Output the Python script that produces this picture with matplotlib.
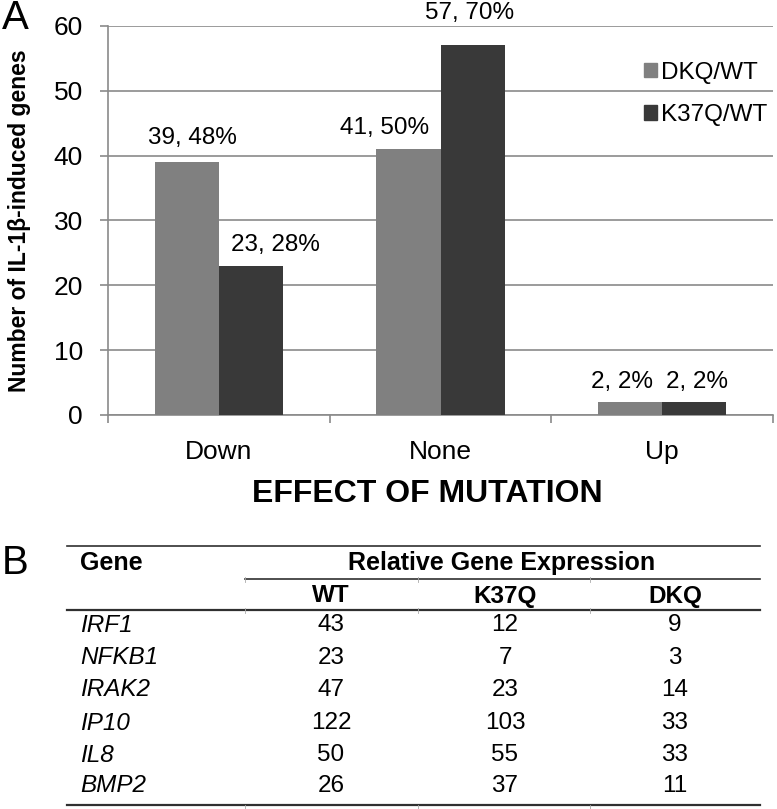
import matplotlib
matplotlib.use("Agg")
import matplotlib.pyplot as plt
from matplotlib.patches import Patch
import numpy as np

plt.rcParams['font.family'] = ['Liberation Sans', 'DejaVu Sans']

# ---- Panel A data ----
categories = ["Down", "None", "Up"]
dkq_counts = [39, 41, 2]
k37q_counts = [23, 57, 2]
dkq_labels = ["39, 48%", "41, 50%", "2, 2%"]
k37q_labels = ["23, 28%", "57, 70%", "2, 2%"]
series_names = ["DKQ/WT", "K37Q/WT"]
yticks = [0, 10, 20, 30, 40, 50, 60]

# ---- Panel B data ----
genes = ["IRF1", "NFKB1", "IRAK2", "IP10", "IL8", "BMP2"]
wt_vals = [43, 23, 47, 122, 50, 26]
k37q_vals = [12, 7, 23, 103, 55, 37]
dkq_vals = [9, 3, 14, 33, 33, 11]
col_headers = ["WT", "K37Q", "DKQ"]

W, H = 777, 809
fig = plt.figure(figsize=(W / 100, H / 100), dpi=100)

c_dkq = "#808080"
c_k37q = "#393939"
c_grid = "#8a8a8a"

# chart axes (pixel layout)
ax_l, ax_r, ax_t, ax_b = 108, 773, 26, 415
ax = fig.add_axes([ax_l / W, 1 - ax_b / H, (ax_r - ax_l) / W, (ax_b - ax_t) / H])
x = np.arange(len(categories))
bw = 0.29
bars1 = ax.bar(x - bw / 2, dkq_counts, bw, color=c_dkq, label=series_names[0], zorder=3)
bars2 = ax.bar(x + bw / 2, k37q_counts, bw, color=c_k37q, label=series_names[1], zorder=3)
ax.set_xlim(-0.5, len(categories) - 0.5)
ax.set_ylim(0, 60)
ax.set_yticks(yticks)
ax.yaxis.grid(True, color=c_grid, linewidth=1.2, zorder=0)
ax.set_xticks(x)
ax.set_xticklabels(categories, fontsize=19)
ax.set_xticks(np.arange(len(categories) + 1) - 0.5, minor=True)
ax.tick_params(axis='x', which='major', length=0, pad=18)
ax.tick_params(axis='x', which='minor', length=6, color=c_grid, width=1.2, direction='out')
ax.tick_params(axis='y', length=6, color=c_grid, width=1.2, labelsize=19, pad=12)
for s in ['top', 'right']:
    ax.spines[s].set_visible(False)
for s in ['left', 'bottom']:
    ax.spines[s].set_color(c_grid)
    ax.spines[s].set_linewidth(1.2)

# data labels (manually placed in source; offsets in points)
dkq_off = [(4.2, 17.4), (-16.8, 15.3), (-5.8, 14.4)]
k37q_off = [(17.3, 15.0), (-2.0, 23.4), (1.8, 14.4)]
for bars, labs, offs in [(bars1, dkq_labels, dkq_off), (bars2, k37q_labels, k37q_off)]:
    for b, lab, off in zip(bars, labs, offs):
        ax.annotate(lab, (b.get_x() + b.get_width() / 2, b.get_height()), xytext=off,
                    textcoords='offset points', ha='center', va='center', fontsize=17.5,
                    annotation_clip=False)

ax.set_ylabel("Number of IL-1β-induced genes", fontsize=16.5, fontweight='bold')
ax.yaxis.set_label_coords(-(ax_l - 20) / (ax_r - ax_l), 0.5)
ax.yaxis.label.set_va('center')
ax.set_xlabel("EFFECT OF MUTATION", fontsize=23, fontweight='bold')
ax.xaxis.set_label_coords(0.48, -(494 - ax_b) / (ax_b - ax_t))
ax.xaxis.label.set_va('center')

leg = ax.legend(handles=[Patch(color=c_dkq), Patch(color=c_k37q)], labels=series_names,
                loc='center left',
                bbox_to_anchor=((644 - ax_l) / (ax_r - ax_l), (ax_b - 94) / (ax_b - ax_t)),
                frameon=False, fontsize=17.5, handlelength=0.55, handleheight=0.55,
                handletextpad=0.15, labelspacing=0.85, borderpad=0, borderaxespad=0)

# panel letters
fig.text(2 / W, 1 - 18 / H, "A", fontsize=29, ha='left', va='center')
fig.text(2 / W, 1 - 563 / H, "B", fontsize=29, ha='left', va='center')

# ---- Panel B table on pixel-coordinate axes ----
tx = fig.add_axes([0, 0, 1, 1])
tx.set_xlim(0, W)
tx.set_ylim(H, 0)
tx.axis('off')
line_col = "#303030"
tx.plot([67, 760], [546, 546], color=line_col, lw=1.2)
tx.plot([245, 760], [579, 579], color=line_col, lw=1.2)
tx.plot([67, 760], [610, 610], color=line_col, lw=1.6)
tx.plot([67, 760], [805, 805], color=line_col, lw=1.6)
col_x = [331, 505, 675]
for sx in [245, 418, 590]:
    tx.plot([sx, sx], [577, 582], color="#aaaaaa", lw=0.6)
    tx.plot([sx, sx], [608, 613], color="#aaaaaa", lw=0.6)
    tx.plot([sx, sx], [805, 809], color="#aaaaaa", lw=0.6)
tx.text(80, 563, "Gene", fontsize=18, fontweight='bold', ha='left', va='center')
tx.text(502, 563, "Relative Gene Expression", fontsize=18, fontweight='bold', ha='center', va='center')
for cx, h in zip(col_x, col_headers):
    tx.text(cx, 596, h, fontsize=17.5, fontweight='bold', ha='center', va='center')
row_y = [625, 658, 690, 723, 755, 786]
for ry, g, a, b, c in zip(row_y, genes, wt_vals, k37q_vals, dkq_vals):
    tx.text(80, ry, g, fontsize=17.5, style='italic', ha='left', va='center')
    for cx, v in zip(col_x, [a, b, c]):
        tx.text(cx, ry, str(v), fontsize=17.5, ha='center', va='center')

fig.savefig("out.png", dpi=100)
